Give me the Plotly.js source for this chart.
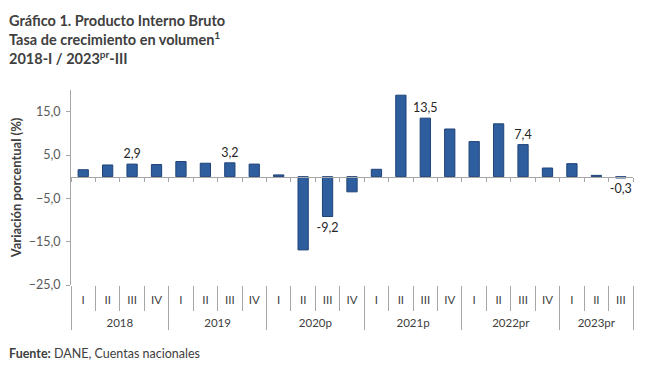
<!DOCTYPE html>
<html><head><meta charset="utf-8">
<script src="https://cdn.plot.ly/plotly-3.0.1.min.js"></script>
<style>html,body{margin:0;padding:0;background:#fff}#chart{width:650px;height:365px}</style>
</head><body><div id="chart"></div>
<script>
const years = ['2018','2018','2018','2018','2019','2019','2019','2019','2020p','2020p','2020p','2020p','2021p','2021p','2021p','2021p','2022pr','2022pr','2022pr','2022pr','2023pr','2023pr','2023pr'];
const quarters = ['I','II','III','IV','I','II','III','IV','I','II','III','IV','I','II','III','IV','I','II','III','IV','I','II','III'];
const growth = [1.6,2.7,2.9,2.8,3.5,3.1,3.2,2.9,0.4,-16.9,-9.2,-3.5,1.7,18.8,13.5,11.0,8.1,12.2,7.4,2.0,3.0,0.3,-0.3];
const labelledIdx = [2,6,10,14,18,22];
const yTicks = [-25,-15,-5,5,15];
const titleLines = [
  '<b>Gráfico 1. Producto Interno Bruto</b>',
  '<b>Tasa de crecimiento en volumen<sup>1</sup></b>',
  '<b>2018-I / 2023<sup>pr</sup>-III</b>'
];

const FONT = 'Lato, "Open Sans", sans-serif';
const TXT = '#404040';
const AX = '#A6A6A6';
const yRange = [-25, 20];
const zeroFrac = (0 - yRange[0]) / (yRange[1] - yRange[0]);

// plot-area geometry (px) used to place paper-referenced text
const PL = 70.5, PW = 562.5, PB = 285, PH = 195;
const px2x = x => (x - PL) / PW;
const px2y = y => (PB - y) / PH;

// quarter labels get an empty second line so the year row sits lower
const quarterLabels = quarters.map(q => q + '<br>\u00a0');
const barText = growth.map((v, i) => labelledIdx.includes(i) ? v.toFixed(1).replace('.', ',') : '');
const idx = growth.map((v, i) => i);

const traces = [
  {
    type: 'bar',
    x: [years, quarterLabels],
    y: growth,
    width: 0.42,
    marker: {color: '#2F5E9E', line: {color: '#1F4378', width: 1}},
    text: barText,
    textposition: 'outside',
    constraintext: 'none',
    cliponaxis: false,
    textfont: {family: FONT, size: 12.5, color: '#262626'},
    hoverinfo: 'skip'
  },
  {
    type: 'bar',
    x: idx,
    y: growth,
    xaxis: 'x2',
    yaxis: 'y',
    marker: {color: 'rgba(0,0,0,0)'},
    hoverinfo: 'skip',
    showlegend: false
  }
];

const annotations = [{
  text: titleLines.join('<br>'), xref: 'paper', yref: 'paper',
  x: px2x(6), xanchor: 'left', align: 'left',
  y: px2y(39), yanchor: 'middle',
  showarrow: false,
  font: {family: FONT, size: 14.5, color: TXT}
}, {
  text: '<b>Fuente:</b> DANE, Cuentas nacionales',
  xref: 'paper', yref: 'paper',
  x: px2x(6), xanchor: 'left',
  y: px2y(353), yanchor: 'middle',
  showarrow: false,
  font: {family: FONT, size: 12.5, color: TXT}
}];

const layout = {
  width: 650, height: 365,
  margin: {l: PL, r: 650 - PL - PW, t: 90, b: 365 - PB},
  paper_bgcolor: '#fff', plot_bgcolor: '#fff',
  separators: ',.',
  showlegend: false,
  barmode: 'overlay',
  font: {family: FONT, color: TXT},
  xaxis: {
    type: 'multicategory',
    showline: false, showgrid: false, zeroline: false,
    ticks: 'outside', tickson: 'boundaries', ticklen: 25, tickcolor: AX, tickwidth: 1,
    ticklabelstandoff: 6,
    showdividers: true, dividercolor: AX, dividerwidth: 1,
    tickfont: {family: FONT, size: 11.5, color: TXT}
  },
  xaxis2: {
    overlaying: 'x', anchor: 'free', position: zeroFrac, side: 'bottom',
    range: [-0.5, growth.length - 0.5],
    showline: true, linecolor: AX, linewidth: 1,
    ticks: 'outside', ticklen: 4, tickcolor: AX,
    tick0: -0.5, dtick: 1,
    showticklabels: false, showgrid: false, zeroline: false
  },
  yaxis: {
    range: yRange,
    tickvals: yTicks,
    tickformat: '.1f',
    showline: true, linecolor: AX, linewidth: 1,
    ticks: 'outside', ticklen: 4, tickcolor: AX,
    ticklabelstandoff: 3,
    showgrid: false, zeroline: false,
    tickfont: {family: FONT, size: 12.5, color: '#595959'},
    title: {text: '<b>Variación porcentual (%)</b>', font: {family: FONT, size: 13, color: TXT}, standoff: 4}
  },
  annotations: annotations
};

Plotly.newPlot('chart', traces, layout, {displayModeBar: false, staticPlot: true});
</script>
</body></html>
